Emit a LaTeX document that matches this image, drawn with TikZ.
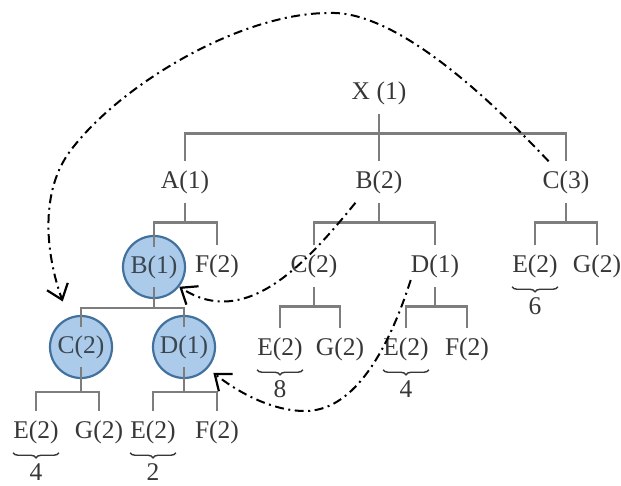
\documentclass[tikz,border=0pt]{standalone}
\usepackage{fontspec}
\setmainfont{Liberation Serif}
\usepackage{tikz}
\usetikzlibrary{arrows.meta, positioning}
\usetikzlibrary{decorations.pathreplacing}
\definecolor{branchgray}{RGB}{125,125,125}
\definecolor{txtgray}{RGB}{55,55,55}
\definecolor{circfill}{RGB}{172,203,234}
\definecolor{circedge}{RGB}{65,113,156}

\begin{document}
\begin{tikzpicture}[x=1pt, y=-1pt,
  every node/.style={font=\fontsize{25.5}{30}\selectfont, text=txtgray},
  tnode/.style={inner xsep=0pt, inner ysep=9pt},
  picked/.style={circle, draw=circedge, line width=2.2pt, fill=circfill,
    text=txtgray!75!circedge, minimum size=62pt, inner sep=0pt},
  branch/.style={draw=branchgray, line width=2.6pt},
  ubrace/.style={decorate, decoration={brace, amplitude=5pt}, draw=txtgray, line width=1.4pt},
  num/.style={inner sep=0pt, below=10pt},
  jump/.style={line width=2pt, dash pattern=on 9pt off 4.5pt on 2pt off 4.5pt,
    -{Straight Barb[length=14pt, width=22pt, line width=2.2pt]}}
]

\useasboundingbox (0,0) rectangle (621,485);

\node[tnode] (x1) at (379,93) {X (1)};

\node[tnode] (a1) at (185,182) {A(1)};
\node[tnode] (b2) at (379,182) {B(2)};
\node[tnode] (c3) at (566,182) {C(3)};

\node[picked] (hb1) at (154,267) {B(1)};
\node[tnode] (f2a) at (217,266) {F(2)};
\node[tnode] (c2) at (314,266) {C(2)};
\node[tnode] (d1) at (435,266) {D(1)};
\node[tnode] (e2a) at (535,266) {E(2)};
\node[tnode] (g2a) at (597,266) {G(2)};

\node[picked] (hc2) at (81,347) {C(2)};
\node[picked] (hd1) at (184,347) {D(1)};
\node[tnode] (e2b) at (280,349) {E(2)};
\node[tnode] (g2b) at (340,349) {G(2)};
\node[tnode] (e2c) at (406,349) {E(2)};
\node[tnode] (f2b) at (467,349) {F(2)};

\node[tnode] (e2d) at (36,432) {E(2)};
\node[tnode] (g2c) at (99,432) {G(2)};
\node[tnode] (e2e) at (153,432) {E(2)};
\node[tnode] (f2c) at (217,432) {F(2)};

\draw[branch] (x1.south) -- ++(0,20) coordinate (xfork);
\draw[branch] (a1.north) |- (xfork) -| (c3.north);
\draw[branch] (xfork) -- (b2.north);

\draw[branch] (a1.south) -- ++(0,20) coordinate (afork);
\draw[branch] ([yshift=-12pt]hb1.north) |- (afork) -| (f2a.north);

\draw[branch] (b2.south) -- ++(0,20) coordinate (bfork);
\draw[branch] (c2.north) |- (bfork) -| (d1.north);

\draw[branch] (c3.south) -- ++(0,20) coordinate (cfork);
\draw[branch] (e2a.north) |- (cfork) -| (g2a.north);

\draw[branch] ([yshift=12pt]hb1.south) -- ++(0,21) coordinate (hbfork);
\draw[branch] ([yshift=-12pt]hc2.north) |- (hbfork) -| ([yshift=-12pt]hd1.north);

\draw[branch] (c2.south) -- ++(0,20) coordinate (c2fork);
\draw[branch] (e2b.north) |- (c2fork) -| (g2b.north);

\draw[branch] (d1.south) -- ++(0,20) coordinate (d1fork);
\draw[branch] (e2c.north) |- (d1fork) -| (f2b.north);

\draw[branch] ([yshift=12pt]hc2.south) -- ++(0,25) coordinate (hcfork);
\draw[branch] (e2d.north) |- (hcfork) -| (g2c.north);

\draw[branch] ([yshift=12pt]hd1.south) -- ++(0,25) coordinate (hdfork);
\draw[branch] (e2e.north) |- (hdfork) -| (f2c.north);

\draw[ubrace] (e2a.south east) -- (e2a.south west) node[num, midway] (n6) {6};
\draw[ubrace] (e2b.south east) -- (e2b.south west) node[num, midway] (n8) {8};
\draw[ubrace] (e2c.south east) -- (e2c.south west) node[num, midway] (n4a) {4};
\draw[ubrace] (e2d.south east) -- (e2d.south west) node[num, midway] (n4b) {4};
\draw[ubrace] (e2e.south east) -- (e2e.south west) node[num, midway] (n2) {2};

\coordinate (peak) at (329,13);
\coordinate (bend) at (71,150);
\coordinate (dip) at (305,411);

\draw[jump, shorten >=17pt] (c3.130) .. controls (500,110) and (400,10) .. (peak)
  .. controls (240,13) and (120,85) .. (bend)
  .. controls (40,190) and (45,252) .. (hc2.113);
\draw[jump] (b2.south west) .. controls (305,265) and (245,330) .. (hb1.-38);
\draw[jump, shorten >=7pt] (d1.-150) .. controls (385,360) and (350,411) .. (dip)
  .. controls (270,411) and (235,390) .. (hd1.-42);

\end{tikzpicture}
\end{document}
